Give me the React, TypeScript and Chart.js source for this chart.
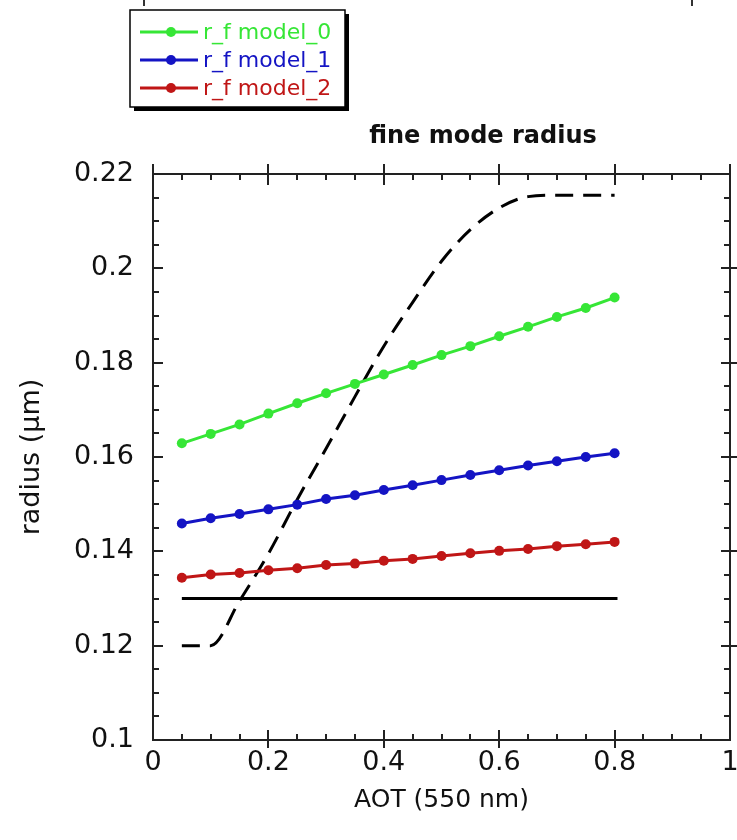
import React, { useEffect, useRef } from 'react';
import { Chart, registerables } from 'chart.js';

Chart.register(...registerables);

// ---- data ----
const aot = [0.05, 0.1, 0.15, 0.2, 0.25, 0.3, 0.35, 0.4, 0.45, 0.5, 0.55, 0.6, 0.65, 0.7, 0.75, 0.8];
const rfModel0 = [0.1629, 0.1649, 0.1669, 0.1692, 0.1714, 0.1735, 0.1755, 0.1775, 0.1795, 0.1816, 0.1835, 0.1856, 0.1876, 0.1897, 0.1916, 0.1938];
const rfModel1 = [0.1459, 0.147, 0.1479, 0.1489, 0.1499, 0.1511, 0.1519, 0.153, 0.154, 0.1551, 0.1562, 0.1572, 0.1582, 0.1591, 0.16, 0.1608];
const rfModel2 = [0.1344, 0.1351, 0.1354, 0.136, 0.1364, 0.1371, 0.1374, 0.138, 0.1384, 0.139, 0.1396, 0.1401, 0.1405, 0.1411, 0.1415, 0.142];
const dashedRadius = [0.12, 0.12, 0.1295, 0.1395, 0.151, 0.1618, 0.1728, 0.1835, 0.1928, 0.2015, 0.2082, 0.2128, 0.2152, 0.2155, 0.2155, 0.2155];
const solidX = [0.05, 0.805];
const solidRadius = [0.13, 0.13];

const seriesLabels = ['r_f model_0', 'r_f model_1', 'r_f model_2'];
const seriesColors = ['#36e636', '#1414c4', '#c01616'];
const xTickLabels = ['0', '0.2', '0.4', '0.6', '0.8', '1'];
const yTickLabels = ['0.1', '0.12', '0.14', '0.16', '0.18', '0.2', '0.22'];
const chartTitle = 'fine mode radius';
const xAxisTitle = 'AOT (550 nm)';
const yAxisTitle = 'radius (\u00b5m)';

const FONT = '"DejaVu Sans", sans-serif';

const pts = (xs: number[], ys: number[]) => xs.map((x, i) => ({ x, y: ys[i] }));

const decorPlugin = {
  id: 'decor',
  afterDatasetsDraw(chart: any) {
    const { ctx, chartArea: a, scales } = chart;
    const xs = scales.x;
    const ys = scales.y;
    ctx.save();
    ctx.strokeStyle = '#222';
    ctx.lineWidth = 2;
    ctx.lineCap = 'butt';
    ctx.strokeRect(a.left, a.top, a.right - a.left, a.bottom - a.top);

    const line = (x1: number, y1: number, x2: number, y2: number) => {
      ctx.beginPath();
      ctx.moveTo(x1, y1);
      ctx.lineTo(x2, y2);
      ctx.stroke();
    };

    // x ticks
    const xMaj = xs.ticks.map((t: any) => t.value);
    for (let i = 0; i < xMaj.length; i++) {
      const v = xMaj[i];
      const px = Math.round(xs.getPixelForValue(v));
      const isEnd = i === 0 || i === xMaj.length - 1;
      line(px, a.top - 10, px, isEnd ? a.top : a.top + 11);
      if (!isEnd) line(px, a.bottom - 10, px, a.bottom + 8);
      if (i < xMaj.length - 1) {
        const step = (xMaj[i + 1] - v) / 4;
        for (let k = 1; k < 4; k++) {
          const mp = Math.round(xs.getPixelForValue(v + step * k));
          line(mp, a.top, mp, a.top + 6);
          line(mp, a.bottom, mp, a.bottom - 6);
        }
      }
    }
    // y ticks
    const yMaj = ys.ticks.map((t: any) => t.value);
    for (let i = 0; i < yMaj.length; i++) {
      const v = yMaj[i];
      const py = Math.round(ys.getPixelForValue(v));
      const isEnd = i === 0 || i === yMaj.length - 1;
      if (!isEnd) {
        line(a.left, py, a.left + 10, py);
        line(a.right - 9, py, a.right + 8, py);
      }
      if (i < yMaj.length - 1) {
        const step = (yMaj[i + 1] - v) / 4;
        for (let k = 1; k < 4; k++) {
          const mp = Math.round(ys.getPixelForValue(v + step * k));
          line(a.left, mp, a.left + 6, mp);
          line(a.right, mp, a.right - 6, mp);
        }
      }
    }
    ctx.restore();
  },
  afterDraw(chart: any) {
    const { ctx } = chart;
    ctx.save();
    // remnants of the axis above (cropped)
    ctx.strokeStyle = '#333';
    ctx.lineWidth = 2;
    [144, 692].forEach((x) => {
      ctx.beginPath();
      ctx.moveTo(x, 0);
      ctx.lineTo(x, 6);
      ctx.stroke();
    });

    // title
    ctx.fillStyle = '#111';
    ctx.font = 'bold 24px ' + FONT;
    ctx.textAlign = 'center';
    ctx.textBaseline = 'alphabetic';
    ctx.fillText(chartTitle, 483, 143);

    // legend box
    const lx = 130, ly = 10, lw = 215, lh = 97;
    ctx.fillStyle = '#000';
    ctx.fillRect(lx + 4, ly + 4, lw, lh);
    ctx.fillStyle = '#fff';
    ctx.fillRect(lx, ly, lw, lh);
    ctx.strokeStyle = '#000';
    ctx.lineWidth = 1.5;
    ctx.strokeRect(lx, ly, lw, lh);

    const datasets = chart.data.datasets.slice(0, 3);
    datasets.forEach((ds: any, i: number) => {
      const ry = 32 + i * 28;
      ctx.strokeStyle = ds.borderColor;
      ctx.lineWidth = 3;
      ctx.beginPath();
      ctx.moveTo(140, ry);
      ctx.lineTo(198, ry);
      ctx.stroke();
      ctx.fillStyle = ds.borderColor;
      ctx.beginPath();
      ctx.arc(171, ry, 5, 0, Math.PI * 2);
      ctx.fill();
      ctx.font = '22px ' + FONT;
      ctx.textAlign = 'left';
      ctx.textBaseline = 'middle';
      ctx.fillText(ds.label, 203, ry + 1);
    });
    ctx.restore();
  },
};

export default function App() {
  const ref = useRef<HTMLCanvasElement | null>(null);

  useEffect(() => {
    if (!ref.current) return;
    const colored = [rfModel0, rfModel1, rfModel2].map((arr, i) => ({
      label: seriesLabels[i],
      data: pts(aot, arr),
      borderColor: seriesColors[i],
      backgroundColor: seriesColors[i],
      borderWidth: 3,
      pointRadius: 5,
      pointBorderWidth: 0,
      pointHoverRadius: 5,
      tension: 0,
    }));
    const chart = new Chart(ref.current, {
      type: 'line',
      data: {
        datasets: [
          ...colored,
          {
            label: 'dashed',
            data: pts(aot, dashedRadius),
            borderColor: '#000',
            borderWidth: 3,
            borderDash: [18, 10],
            pointRadius: 0,
            cubicInterpolationMode: 'monotone',
          },
          {
            label: 'solid',
            data: pts(solidX, solidRadius),
            borderColor: '#000',
            borderWidth: 3,
            pointRadius: 0,
            tension: 0,
          },
        ] as any,
      },
      options: {
        animation: false,
        responsive: false,
        devicePixelRatio: 1,
        layout: { padding: { left: 0, top: 174, right: 7, bottom: 0 } },
        plugins: {
          legend: { display: false },
          title: { display: false },
          tooltip: { enabled: false },
        },
        events: [],
        scales: {
          x: {
            type: 'linear',
            min: 0,
            max: 1,
            grid: { display: false, drawTicks: false },
            border: { display: false },
            ticks: {
              stepSize: 0.2,
              padding: 7,
              color: '#111',
              font: { family: FONT, size: 27 },
              maxRotation: 0,
              callback: (_v: any, i: number) => xTickLabels[i],
            },
            title: {
              display: true,
              text: xAxisTitle,
              color: '#111',
              font: { family: FONT, size: 25 },
              padding: { top: 0, bottom: 25 },
            },
            afterFit: (s: any) => {
              s.height = 100;
              s.paddingRight = 0;
              s.paddingLeft = 0;
            },
          },
          y: {
            type: 'linear',
            min: 0.1,
            max: 0.22,
            grid: { display: false, drawTicks: false },
            border: { display: false },
            ticks: {
              stepSize: 0.02,
              padding: 19,
              color: '#111',
              font: { family: FONT, size: 27 },
              callback: (_v: any, i: number) => yTickLabels[i],
            },
            title: {
              display: true,
              text: yAxisTitle,
              color: '#111',
              font: { family: FONT, size: 27 },
              padding: { top: 16, bottom: 0 },
            },
            afterFit: (s: any) => {
              s.width = 153;
              s.paddingTop = 0;
              s.paddingBottom = 0;
            },
          },
        },
      } as any,
      plugins: [decorPlugin],
    });
    return () => chart.destroy();
  }, []);

  return (
    <div style={{ position: 'fixed', left: 0, top: 0, width: 737, height: 840, background: '#fff' }}>
      <canvas ref={ref} width={737} height={840} style={{ display: 'block', width: 737, height: 840 }} />
    </div>
  );
}
